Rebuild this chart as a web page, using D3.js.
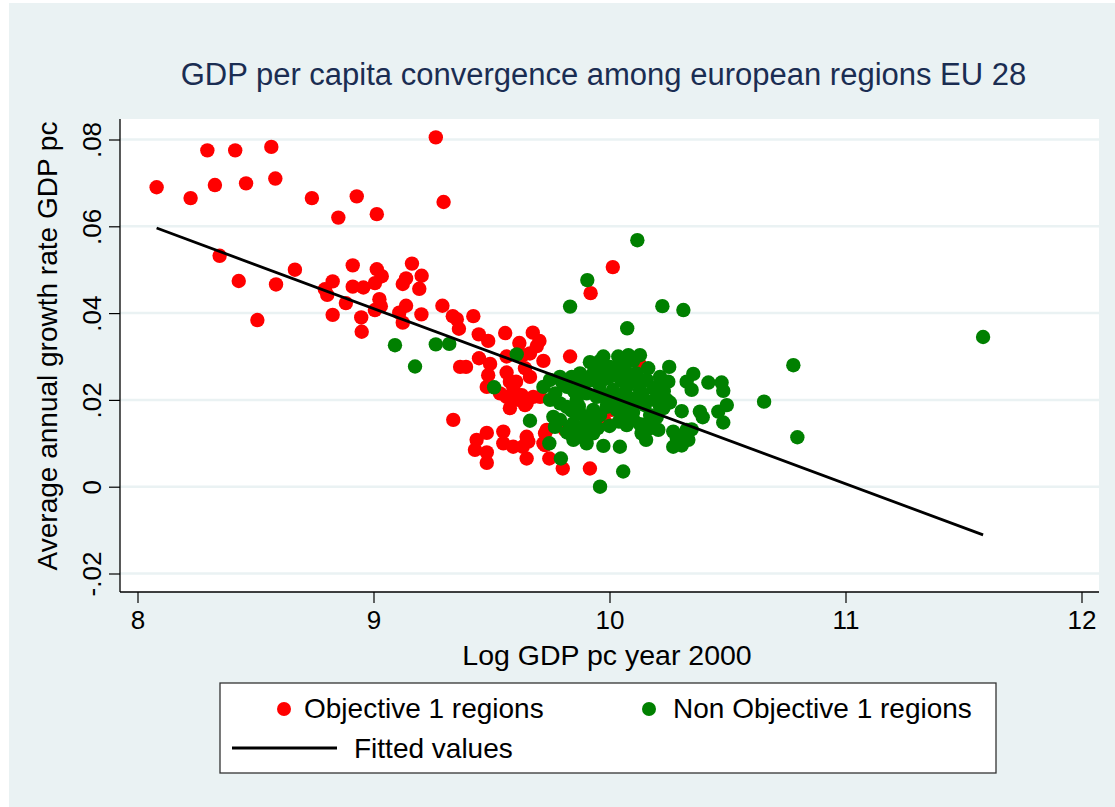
<!DOCTYPE html>
<html><head><meta charset="utf-8">
<script src="https://cdn.jsdelivr.net/npm/d3@7"></script>
<style>
body{margin:0;background:#fff}
text{font-family:"Liberation Sans",Arial,Helvetica,sans-serif}
</style>
</head><body>
<svg id="chart" width="1115" height="807"></svg>
<script>
const obj1LogGdp=[8.081,8.225,8.296,8.328,8.414,8.460,8.567,8.584,8.739,8.929,8.851,9.014,9.264,9.297,8.348,8.429,8.587,8.667,8.508,8.912,8.827,8.794,8.804,8.912,8.957,9.014,9.035,9.006,9.163,9.138,9.124,9.204,9.194,8.883,9.025,9.031,9.006,8.827,8.948,8.950,9.138,9.109,9.124,9.203,9.292,9.336,9.353,9.362,9.423,9.446,9.486,9.447,9.558,9.618,9.675,9.703,9.692,9.663,9.632,9.367,9.392,9.494,9.486,9.564,9.604,9.592,9.642,9.663,9.720,9.833,9.480,9.536,9.564,9.578,9.614,9.628,9.649,9.677,9.706,9.338,9.480,9.437,9.430,9.480,9.480,9.550,9.550,9.592,9.649,9.656,9.632,9.649,9.727,9.727,9.745,9.802,9.917,10.014,9.920,9.981,10.009,10.125,9.811,9.564,9.578,9.600,9.642,9.734,9.720,9.833];
const obj1Growth=[0.0690,0.0665,0.0775,0.0695,0.0775,0.0699,0.0783,0.0710,0.0665,0.0669,0.0620,0.0628,0.0805,0.0656,0.0532,0.0474,0.0466,0.0500,0.0384,0.0510,0.0473,0.0455,0.0442,0.0461,0.0459,0.0501,0.0485,0.0469,0.0514,0.0480,0.0467,0.0486,0.0456,0.0423,0.0432,0.0416,0.0407,0.0396,0.0390,0.0357,0.0417,0.0401,0.0378,0.0397,0.0417,0.0393,0.0386,0.0364,0.0393,0.0351,0.0336,0.0296,0.0354,0.0331,0.0355,0.0336,0.0324,0.0307,0.0303,0.0276,0.0276,0.0283,0.0257,0.0263,0.0242,0.0230,0.0273,0.0253,0.0290,0.0300,0.0230,0.0215,0.0207,0.0181,0.0200,0.0211,0.0192,0.0207,0.0207,0.0154,0.0124,0.0108,0.0085,0.0079,0.0055,0.0127,0.0100,0.0092,0.0115,0.0104,0.0092,0.0065,0.0123,0.0096,0.0065,0.0042,0.0042,0.0506,0.0446,0.0150,0.0177,0.0284,0.0131,0.0300,0.0242,0.0215,0.0188,0.0131,0.0100,0.0123];
const nonObj1LogGdp=[9.091,9.176,9.264,9.321,9.607,9.511,9.663,9.745,9.794,9.960,10.058,9.974,10.044,9.906,9.833,10.075,10.118,10.224,10.313,10.253,10.355,10.327,10.348,10.419,10.475,10.482,10.497,10.461,10.383,10.395,10.482,10.655,10.779,10.796,11.583,10.249,10.256,10.228,10.306,10.348,10.334,10.306,10.270,10.270,10.207,10.158,10.129,10.136,10.155,9.974,10.037,10.080,9.946,10.002,10.066,10.115,10.164,9.931,9.988,9.875,9.840,10.158,10.214,10.073,10.129,10.186,10.242,10.214,9.819,9.861,9.903,9.946,9.875,9.931,9.988,10.031,10.058,10.073,9.790,9.833,9.861,9.889,9.931,9.847,9.903,10.172,10.285,10.327,9.720,9.748,9.790,9.748,9.790,9.762,9.769,9.847,10.015,9.958,10.087,10.150,10.038,9.980,9.896,10.100,10.172,10.129,10.023,9.917,10.206,
  9.820,9.850,9.880,9.920,9.950,9.980,10.010,10.050,10.090,10.120,9.840,9.870,9.900,9.930,9.960,9.990,10.020,10.050,10.080,10.110,10.140,9.820,9.880,9.950,10.000,10.040,10.100,10.190,10.200,10.230,9.960,10.050,10.100,9.770,9.800];
const nonObj1Growth=[0.0326,0.0277,0.0328,0.0329,0.0305,0.0229,0.0152,0.0100,0.0065,0.0000,0.0035,0.0094,0.0092,0.0476,0.0415,0.0365,0.0568,0.0416,0.0407,0.0276,0.0260,0.0242,0.0223,0.0240,0.0240,0.0221,0.0188,0.0173,0.0173,0.0160,0.0148,0.0196,0.0280,0.0114,0.0345,0.0242,0.0194,0.0181,0.0174,0.0132,0.0108,0.0095,0.0092,0.0127,0.0131,0.0144,0.0144,0.0123,0.0108,0.0300,0.0300,0.0303,0.0284,0.0276,0.0269,0.0261,0.0273,0.0261,0.0250,0.0261,0.0253,0.0246,0.0253,0.0230,0.0223,0.0227,0.0200,0.0184,0.0184,0.0200,0.0215,0.0207,0.0169,0.0177,0.0184,0.0177,0.0161,0.0142,0.0154,0.0138,0.0123,0.0138,0.0123,0.0108,0.0100,0.0135,0.0112,0.0131,0.0230,0.0246,0.0253,0.0200,0.0192,0.0161,0.0138,0.0146,0.0223,0.0234,0.0204,0.0188,0.0211,0.0211,0.0246,0.0172,0.0165,0.0303,0.0262,0.0287,0.0230,
  0.0230,0.0220,0.0235,0.0245,0.0258,0.0268,0.0255,0.0245,0.0255,0.0240,0.0175,0.0185,0.0160,0.0150,0.0165,0.0195,0.0200,0.0190,0.0180,0.0195,0.0210,0.0125,0.0115,0.0135,0.0140,0.0150,0.0155,0.0200,0.0160,0.0220,0.0290,0.0285,0.0290,0.0215,0.0240];
const fitLogGdp=[8.081,11.583];
const fitGrowth=[0.0596,-0.0111];
const xTicks=[8,9,10,11,12];
const yTicks=[-0.02,0,0.02,0.04,0.06,0.08];
const yTickLabels=["-.02","0",".02",".04",".06",".08"];
const titleText="GDP per capita convergence among european regions EU 28";
const xTitle="Log GDP pc year 2000";
const yTitle="Average annual growth rate GDP pc";
const legendLabels=["Objective 1 regions","Non Objective 1 regions","Fitted values"];
const colors={obj1:"#ff0000",non:"#008000",fit:"#000000",bg:"#eaf2f3",title:"#1a2d52"};

const svg=d3.select("#chart");
svg.append("rect").attr("x",9).attr("y",3).attr("width",1106).attr("height",804).attr("fill",colors.bg);
const P={l:120,r:1099,t:119,b:592};
svg.append("rect").attr("x",P.l).attr("y",P.t).attr("width",P.r-P.l).attr("height",P.b-P.t).attr("fill","#fff");

const x=d3.scaleLinear().domain([8,12]).range([137.5,1081.5]);
const y=d3.scaleLinear().domain([-0.02,0.08]).range([573.5,139.5]);

svg.append("g").selectAll("line").data(yTicks).join("line")
  .attr("x1",P.l).attr("x2",P.r).attr("y1",d=>y(d)).attr("y2",d=>y(d))
  .attr("stroke",colors.bg).attr("stroke-width",2.5);

const xAxis=svg.append("g").attr("transform",`translate(0,${P.b})`)
  .call(d3.axisBottom(x).tickValues(xTicks).tickFormat(d3.format("d")).tickSize(11).tickSizeOuter(0).tickPadding(8));
xAxis.select(".domain").remove();
xAxis.selectAll("line").attr("stroke","#000").attr("stroke-width",1.2);
xAxis.selectAll("text").attr("font-size",26).attr("fill","#000").attr("font-family","Liberation Sans, Arial, sans-serif");

const yAxis=svg.append("g").attr("transform",`translate(${P.l},0)`)
  .call(d3.axisLeft(y).tickValues(yTicks).tickFormat((d,i)=>yTickLabels[i]).tickSize(11).tickSizeOuter(0));
yAxis.select(".domain").remove();
yAxis.selectAll("line").attr("stroke","#000").attr("stroke-width",1.2);
yAxis.selectAll("text").attr("font-size",26).attr("fill","#000").attr("font-family","Liberation Sans, Arial, sans-serif")
  .attr("x",null).attr("dy",null).attr("text-anchor","middle")
  .attr("transform","translate(-19,0) rotate(-90)");

svg.append("line").attr("x1",P.l).attr("x2",P.l).attr("y1",P.t).attr("y2",P.b).attr("stroke","#000").attr("stroke-width",1.3);
svg.append("line").attr("x1",P.l).attr("x2",P.r).attr("y1",P.b).attr("y2",P.b).attr("stroke","#000").attr("stroke-width",1.3);

const obj1=obj1LogGdp.map((v,i)=>[v,obj1Growth[i]]);
const non=nonObj1LogGdp.map((v,i)=>[v,nonObj1Growth[i]]);
svg.append("g").selectAll("circle").data(obj1).join("circle")
  .attr("cx",d=>x(d[0])).attr("cy",d=>y(d[1])).attr("r",7.2).attr("fill",colors.obj1);
svg.append("g").selectAll("circle").data(non).join("circle")
  .attr("cx",d=>x(d[0])).attr("cy",d=>y(d[1])).attr("r",7.2).attr("fill",colors.non);
const fit=fitLogGdp.map((v,i)=>[v,fitGrowth[i]]);
svg.append("path").datum(fit).attr("d",d3.line().x(d=>x(d[0])).y(d=>y(d[1])))
  .attr("stroke",colors.fit).attr("stroke-width",2.8).attr("fill","none");

svg.append("text").attr("x",603.5).attr("y",85).attr("text-anchor","middle").attr("font-size",31).attr("fill",colors.title).text(titleText);
svg.append("text").attr("x",607).attr("y",665).attr("text-anchor","middle").attr("font-size",28.5).attr("fill","#000").text(xTitle);
svg.append("text").attr("transform","translate(57,346) rotate(-90)").attr("text-anchor","middle").attr("font-size",28).attr("fill","#000").text(yTitle);

const lg=svg.append("g");
lg.append("rect").attr("x",220).attr("y",683).attr("width",776).attr("height",90).attr("fill","#fff").attr("stroke","#333").attr("stroke-width",1.3);
lg.append("circle").attr("cx",284).attr("cy",709).attr("r",7).attr("fill",colors.obj1);
lg.append("text").attr("x",304).attr("y",718).attr("font-size",28).text(legendLabels[0]);
lg.append("circle").attr("cx",649).attr("cy",709).attr("r",7).attr("fill",colors.non);
lg.append("text").attr("x",673).attr("y",718).attr("font-size",28).text(legendLabels[1]);
lg.append("line").attr("x1",232).attr("x2",337).attr("y1",748).attr("y2",748).attr("stroke",colors.fit).attr("stroke-width",2.8);
lg.append("text").attr("x",354).attr("y",758).attr("font-size",28).text(legendLabels[2]);
</script>
</body></html>
